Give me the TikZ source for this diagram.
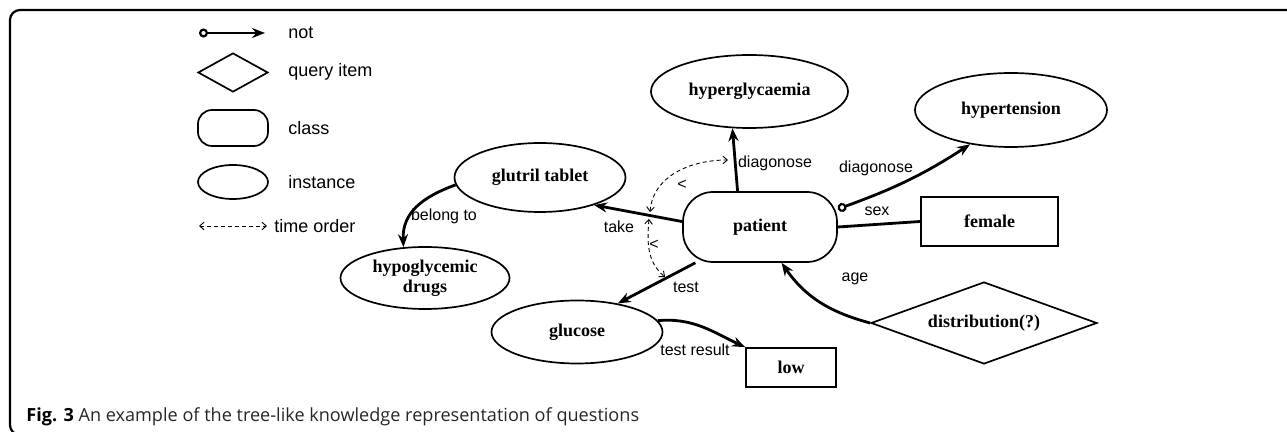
\documentclass[tikz,border=0pt]{standalone}
\usepackage{fontspec}
\usetikzlibrary{shapes.geometric,arrows.meta}
\newfontfamily\labfont{Liberation Sans}
\newfontfamily\nodfont{Liberation Serif}
\newfontfamily\capfont{Open Sans}
\begin{document}
\begin{tikzpicture}[x=0.5pt,y=0.5pt,
  inst/.style={ellipse,draw,line width=0.85pt,inner sep=0pt,align=center,font=\nodfont\bfseries\fontsize{9}{10}\selectfont},
  clsbox/.style={rectangle,draw,line width=0.85pt,rounded corners=15pt,inner sep=0pt,font=\nodfont\bfseries\fontsize{9}{10}\selectfont},
  valbox/.style={rectangle,draw,line width=0.85pt,inner sep=0pt,font=\nodfont\bfseries\fontsize{9}{10}\selectfont},
  query/.style={diamond,draw,line width=0.85pt,inner sep=1pt,aspect=2.76,font=\nodfont\bfseries\fontsize{9}{10}\selectfont},
  elab/.style={inner sep=0pt,font=\labfont\fontsize{8}{9}\selectfont},
  leglab/.style={inner sep=0pt,anchor=west,font=\labfont\fontsize{9}{10}\selectfont},
  edge/.style={line width=1.4pt,-{Stealth[length=6.5pt,width=5pt]}},
  notedge/.style={line width=1.4pt,{Circle[open,length=4.5pt,width=4.5pt,line width=1.1pt]}-{Stealth[length=6.5pt,width=5pt]}},
  plainedge/.style={line width=1.4pt},
  tord/.style={line width=0.45pt,dash pattern=on 2pt off 1.5pt,{Straight Barb[length=2.2pt,width=3.8pt]}-{Straight Barb[length=2.2pt,width=3.8pt]}}
]
\useasboundingbox (0,0) rectangle (1287,-432);
% frame
\draw[line width=1.1pt,rounded corners=5pt] (1292,-10) -- (10,-10) -- (10,-435) -- (40,-435);

% legend
\coordinate (ln1) at (199,-33);
\coordinate (ln2) at (265,-33);
\draw[notedge] (ln1) -- (ln2);
\node[leglab] (lnot) at (288,-33) {not};
\node[diamond,draw,line width=0.85pt,inner sep=0pt,minimum width=35pt,minimum height=19.5pt,aspect=1.8] (ldia) at (233,-72.5) {};
\node[leglab] (lq) at (288,-72) {query item};
\node[rectangle,draw,line width=0.85pt,rounded corners=7pt,inner sep=0pt,minimum width=35pt,minimum height=18pt] (lcls) at (233,-128) {};
\node[leglab] (lc) at (288,-128) {class};
\node[ellipse,draw,line width=0.85pt,inner sep=0pt,minimum width=35pt,minimum height=17pt] (lins) at (233,-182) {};
\node[leglab] (li) at (288,-182) {instance};
\coordinate (lt1) at (199,-226);
\coordinate (lt2) at (267,-226);
\draw[tord] (lt1) -- (lt2);
\node[leglab] (lt) at (274,-226) {time order};

% main nodes
\node[inst,minimum width=98.5pt,minimum height=36.5pt] (hyp) at (749.5,-91.5) {hyperglycaemia};
\node[inst,minimum width=96pt,minimum height=37pt] (hyt) at (1011,-110) {hypertension};
\node[clsbox,minimum width=77pt,minimum height=35pt] (pat) at (760,-227) {patient};
\node[inst,minimum width=85.5pt,minimum height=34.5pt] (glu) at (540,-177.5) {glutril tablet};
\node[inst,minimum width=84.5pt,minimum height=31pt] (hypo) at (425,-278) {hypoglycemic\\drugs};
\node[inst,minimum width=85.5pt,minimum height=31.5pt] (gls) at (577,-332) {glucose};
\node[valbox,minimum width=45pt,minimum height=19.5pt] (low) at (791,-367.5) {low};
\node[valbox,minimum width=68.5pt,minimum height=24.5pt] (fem) at (989.5,-221.5) {female};
\node[query,minimum width=113pt,minimum height=41pt] (dist) at (984,-323) {distribution(?)};

% connectors
\draw[edge] (pat.122) to[out=95,in=-85] (hyp.-115);
\draw[notedge] (pat.13) to[out=20,in=213] (hyt.220);
\draw[plainedge] (pat.east) -- (fem.west);
\draw[edge] (pat.176) -- (glu.-27);
\draw[edge] (glu.185) to[out=200,in=92,looseness=1.1] (hypo.125);
\draw[edge] (pat.209) -- (gls.35);
\draw[edge] (gls.8) to[out=5,in=155] (low.north west);
\draw[edge] (dist.west) to[out=165,in=-55] (pat.-59);

% time order arcs
\coordinate (t1) at (650,-212);
\coordinate (t2) at (728,-160);
\coordinate (t3) at (649,-219);
\coordinate (t4) at (665,-277);
\draw[tord] (t1) to[out=85,in=180] (t2);
\draw[tord] (t3) to[out=-95,in=140] (t4);

% labels
\node[elab] (l1) at (775,-163) {diagonose};
\node[elab] (l2) at (876,-168) {diagonose};
\node[elab] (l3) at (877,-211) {sex};
\node[elab] (l4) at (619,-227) {take};
\node[elab] (l5) at (444,-216) {belong to};
\node[elab] (l6) at (686,-287) {test};
\node[elab] (l7) at (695,-350) {test result};
\node[elab] (l8) at (855,-279) {age};
\node[elab] (lt1l) at (682,-185) {<};
\node[elab] (lt2l) at (654,-245) {<};

% caption
\node[anchor=base west,inner sep=0pt,text=black!85,font=\capfont\fontsize{9.05}{10}\selectfont] (cap) at (26,-422) {\textbf{\color{black}Fig. 3} An example of the tree-like knowledge representation of questions};
\end{tikzpicture}
\end{document}
